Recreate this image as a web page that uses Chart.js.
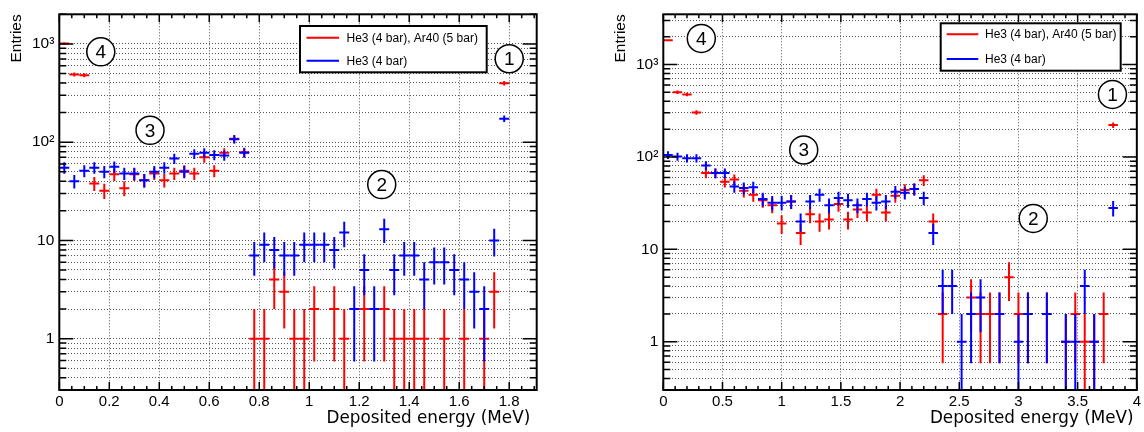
<!DOCTYPE html>
<html><head><meta charset="utf-8">
<script src="https://cdn.jsdelivr.net/npm/chart.js@4.4.1/dist/chart.umd.min.js"></script>
<style>
html,body{margin:0;padding:0;background:#fff;}
#wrap{position:relative;width:1144px;height:432px;overflow:hidden;}
canvas{position:absolute;top:0;}
#c1{left:0}
#c2{left:572px}
</style></head>
<body><div id="wrap"><canvas id="c1" width="572" height="432"></canvas><canvas id="c2" width="572" height="432"></canvas></div>
<script>
// ---------- data ----------
const SERIES_NAMES = ['He3 (4 bar), Ar40 (5 bar)', 'He3 (4 bar)'];
const SERIES_COLORS = ['#ff0000', '#0000ff'];
const X_TITLE = 'Deposited energy (MeV)';
const Y_TITLE = 'Entries';

// left panel: bin centres (MeV), bin width 0.04
const LEFT_X = [0.02,0.06,0.10,0.14,0.18,0.22,0.26,0.30,0.34,0.38,
                0.42,0.46,0.50,0.54,0.58,0.62,0.66,0.70,0.74,0.78,
                0.82,0.86,0.90,0.94,0.98,1.02,1.06,1.10,1.14,1.18,
                1.22,1.26,1.30,1.34,1.38,1.42,1.46,1.50,1.54,1.58,
                1.62,1.66,1.70,1.74,1.78];
const LEFT_RED = [1010,488,480,38,32,47,34,47,41,48,
                  41,48,51,48,70,51,78,108,79,1,
                  1,4,3,1,1,2,null,2,1,null,
                  2,null,2,1,1,1,1,null,1,null,
                  1,null,1,3,398];
const LEFT_BLUE = [55,40,51,55,50,56,48,48,41,50,
                   55,68,50,76,78,74,73,107,78,7,
                   9,8,7,7,9,9,9,8,12,2,
                   5,2,13,5,7,7,4,6,6,5,
                   4,3,2,10,173];

// right panel: bin centres (MeV), bin width 0.08
const RIGHT_X = [0.04,0.12,0.20,0.28,0.36,0.44,0.52,0.60,0.68,0.76,
                 0.84,0.92,1.00,1.08,1.16,1.24,1.32,1.40,1.48,1.56,
                 1.64,1.72,1.80,1.88,1.96,2.04,2.12,2.20,2.28,2.36,
                 2.44,2.52,2.60,2.68,2.76,2.84,2.92,3.00,3.08,3.16,
                 3.24,3.32,3.40,3.48,3.56,3.64,3.72,3.80];
const RIGHT_RED = [1830,503,475,303,67,67,54,57,43,39,
                   34,30,19,33,15,24,20,21,31,21,
                   27,25,39,25,38,44,45,56,20,2,
                   null,null,3,2,2,2,5,2,2,null,
                   2,null,1,2,1,1,2,221];
const RIGHT_BLUE = [105,101,97,97,81,67,67,48,46,47,
                    35,32,32,33,20,33,39,30,36,34,
                    30,35,32,33,42,41,45,36,15,4,
                    4,1,2,3,null,2,null,1,2,null,
                    2,null,1,1,4,1,null,28];

// axis ticks
const LEFT_XTICKS = [0,0.2,0.4,0.6,0.8,1.0,1.2,1.4,1.6,1.8];
const LEFT_XLABELS = ['0','0.2','0.4','0.6','0.8','1','1.2','1.4','1.6','1.8'];
const RIGHT_XTICKS = [0,0.5,1.0,1.5,2.0,2.5,3.0,3.5,4.0];
const RIGHT_XLABELS = ['0','0.5','1','1.5','2','2.5','3','3.5','4'];
const LEFT_YTICKS = [0.3,0.4,0.5,0.6,0.7,0.8,0.9,1,2,3,4,5,6,7,8,9,10,20,30,40,50,60,70,80,90,
                     100,200,300,400,500,600,700,800,900,1000,2000];
const RIGHT_YTICKS = [0.3,0.4,0.5,0.6,0.7,0.8,0.9,1,2,3,4,5,6,7,8,9,10,20,30,40,50,60,70,80,90,
                      100,200,300,400,500,600,700,800,900,1000,2000,3000];
const Y_LABELS = {'1':'1','10':'10','100':'10\u00B2','1000':'10\u00B3'};

// circled region labels: [text, x (MeV), y (entries)]
const LEFT_NOTES = [['4',0.166,830],['3',0.363,132],['2',1.29,37],['1',1.80,706]];
const RIGHT_NOTES = [['4',0.321,1920],['3',1.186,119],['2',3.125,21.6],['1',3.794,475]];

// ---------- drawing ----------
const SANS = '"Liberation Sans", Arial, Helvetica, sans-serif';

function toPoints(xs, ys) {
  const out = [];
  xs.forEach((x, i) => { if (ys[i] !== null && ys[i] !== undefined) out.push({x: x, y: ys[i]}); });
  return out;
}
function isPow10(v) { const l = Math.log10(v); return Math.abs(l - Math.round(l)) < 1e-9; }

const histPlugin = {
  id: 'hist',
  afterDatasetsDraw(chart, args, o) {
    const {ctx, chartArea: a} = chart;
    const xs = chart.scales.x, ys = chart.scales.y;
    const hw = o.binWidth / 2;
    ctx.save();
    ctx.beginPath(); ctx.rect(a.left, a.top, a.right - a.left, a.bottom - a.top); ctx.clip();
    ctx.lineWidth = 2; ctx.lineCap = 'butt';
    chart.data.datasets.forEach(ds => {
      ctx.strokeStyle = ds.borderColor;
      ds.data.forEach(p => {
        const px = xs.getPixelForValue(p.x);
        const py = ys.getPixelForValue(p.y);
        const x0 = xs.getPixelForValue(p.x - hw), x1 = xs.getPixelForValue(p.x + hw);
        const e = Math.sqrt(p.y);
        const lo = p.y - e;
        const yLo = lo > ys.min ? ys.getPixelForValue(lo) : a.bottom;
        const yHi = ys.getPixelForValue(p.y + e);
        ctx.beginPath();
        ctx.moveTo(x0, py); ctx.lineTo(x1, py);
        ctx.moveTo(px, yLo); ctx.lineTo(px, yHi);
        ctx.stroke();
      });
    });
    ctx.restore();
  },
  afterDraw(chart, args, o) {
    const {ctx, chartArea: a} = chart;
    const xs = chart.scales.x, ys = chart.scales.y;
    ctx.save();
    // tick marks inside the frame
    ctx.strokeStyle = '#000'; ctx.lineWidth = 1.5;
    ctx.beginPath();
    ys.ticks.forEach(t => {
      const py = ys.getPixelForValue(t.value);
      const L = isPow10(t.value) ? 14 : 7;
      ctx.moveTo(a.left, py); ctx.lineTo(a.left + L, py);
      ctx.moveTo(a.right, py); ctx.lineTo(a.right - L, py);
    });
    const nMinor = Math.round(xs.max / o.xMinor + 1e-6);
    for (let i = 0; i <= nMinor; i++) {
      const v = i * o.xMinor;
      const px = xs.getPixelForValue(v);
      const major = Math.abs(v / o.xMajor - Math.round(v / o.xMajor)) < 1e-6;
      const L = major ? 8 : 4;
      ctx.moveTo(px, a.bottom); ctx.lineTo(px, a.bottom - L);
      ctx.moveTo(px, a.top); ctx.lineTo(px, a.top + L);
    }
    ctx.stroke();
    // frame
    ctx.lineWidth = 2;
    ctx.strokeRect(a.left, a.top, a.right - a.left, a.bottom - a.top);
    // x-axis title, right aligned near the axis end
    ctx.fillStyle = '#000';
    ctx.font = '16.8px "DejaVu Sans", sans-serif';
    ctx.textAlign = 'right'; ctx.textBaseline = 'alphabetic';
    ctx.fillText(X_TITLE, a.right - o.titleInset, 423);
    // circled region labels
    (o.notes || []).forEach(n => {
      const cx = xs.getPixelForValue(n[1]), cy = ys.getPixelForValue(n[2]);
      ctx.beginPath(); ctx.arc(cx, cy, 14, 0, Math.PI * 2);
      ctx.fillStyle = '#fff'; ctx.fill();
      ctx.lineWidth = 1.5; ctx.strokeStyle = '#000'; ctx.stroke();
      ctx.fillStyle = '#000'; ctx.font = '19px ' + SANS;
      ctx.textAlign = 'center'; ctx.textBaseline = 'middle';
      ctx.fillText(n[0], cx, cy + 1);
    });
    // legend box
    const L = o.legend;
    ctx.fillStyle = '#fff';
    ctx.fillRect(L.x, L.y, L.w, L.h);
    ctx.lineWidth = 2; ctx.strokeStyle = '#000';
    ctx.strokeRect(L.x, L.y, L.w, L.h);
    ctx.font = '12px ' + SANS; ctx.textAlign = 'left'; ctx.textBaseline = 'middle';
    chart.data.datasets.forEach((ds, i) => {
      const ry = L.y + L.rows[i];
      ctx.strokeStyle = ds.borderColor; ctx.lineWidth = 2;
      ctx.beginPath(); ctx.moveTo(L.x + L.l0, ry); ctx.lineTo(L.x + L.l1, ry); ctx.stroke();
      ctx.fillStyle = '#000';
      ctx.fillText(ds.label, L.x + L.tx, ry + 0.5);
    });
    ctx.restore();
  }
};

function build(id, o) {
  return new Chart(document.getElementById(id), {
    type: 'scatter',
    data: { datasets: [
      {label: SERIES_NAMES[0], data: toPoints(o.xs, o.red), borderColor: SERIES_COLORS[0], backgroundColor: SERIES_COLORS[0], pointRadius: 0, showLine: false},
      {label: SERIES_NAMES[1], data: toPoints(o.xs, o.blue), borderColor: SERIES_COLORS[1], backgroundColor: SERIES_COLORS[1], pointRadius: 0, showLine: false}
    ]},
    options: {
      responsive: false, animation: false, devicePixelRatio: 1, events: [],
      layout: {padding: {top: o.padTop, right: o.padRight, left: 0, bottom: 0}},
      plugins: {
        legend: {display: false}, tooltip: {enabled: false},
        hist: {binWidth: o.binWidth, xMinor: o.xMinor, xMajor: o.xMajor, notes: o.notes,
               legend: o.legend, titleInset: o.titleInset}
      },
      scales: {
        x: {
          type: 'linear', position: 'bottom', min: 0, max: o.xMax,
          afterBuildTicks: s => { s.ticks = o.xTicks.map(v => ({value: v})); },
          afterFit: s => { s.height = 42; },
          ticks: {autoSkip: false, maxRotation: 0, color: '#000', padding: 3,
                  font: {family: SANS, size: 15},
                  callback: (v, i) => o.xLabels[i]},
          grid: {drawTicks: false, color: '#555', lineWidth: 1},
          border: {display: false, dash: [1, 2]},
          title: {display: false}
        },
        y: {
          type: 'logarithmic', position: 'left', min: 0.3, max: o.yMax,
          afterBuildTicks: s => { s.ticks = o.yTicks.map(v => ({value: v})); },
          afterFit: s => { s.width = o.yAxisWidth; },
          ticks: {autoSkip: false, color: '#000', padding: 5,
                  font: {family: SANS, size: 15.5},
                  callback: v => Y_LABELS[String(v)] || ''},
          grid: {drawTicks: false, color: '#555', lineWidth: 1},
          border: {display: false, dash: [1, 2]},
          title: {display: true, text: Y_TITLE, align: 'end', color: '#000',
                  font: {family: SANS, size: 15.5}, padding: {top: o.yTitlePad, bottom: 0}}
        }
      }
    },
    plugins: [histPlugin]
  });
}

build('c1', {
  xs: LEFT_X, red: LEFT_RED, blue: LEFT_BLUE, binWidth: 0.04,
  xMax: 1.91, yMax: 2000, xTicks: LEFT_XTICKS, xLabels: LEFT_XLABELS, yTicks: LEFT_YTICKS,
  xMinor: 0.05, xMajor: 0.2,
  padTop: 11, padRight: 35.3, yAxisWidth: 59.3, yTitlePad: 7.3, titleInset: 6.5,
  notes: LEFT_NOTES,
  legend: {x: 300, y: 26, w: 186.7, h: 46.3, l0: 6.5, l1: 39, tx: 46.5, rows: [11.7, 34.7]}
});
build('c2', {
  xs: RIGHT_X, red: RIGHT_RED, blue: RIGHT_BLUE, binWidth: 0.08,
  xMax: 4, yMax: 3500, xTicks: RIGHT_XTICKS, xLabels: RIGHT_XLABELS, yTicks: RIGHT_YTICKS,
  xMinor: 0.1, xMajor: 0.5,
  padTop: 9.3, padRight: 4, yAxisWidth: 91.3, yTitlePad: 39.8, titleInset: 3.3,
  notes: RIGHT_NOTES,
  legend: {x: 368.7, y: 23.3, w: 180, h: 47.4, l0: 6, l1: 37.6, tx: 44.3, rows: [11, 35.7]}
});
</script>
</body></html>
